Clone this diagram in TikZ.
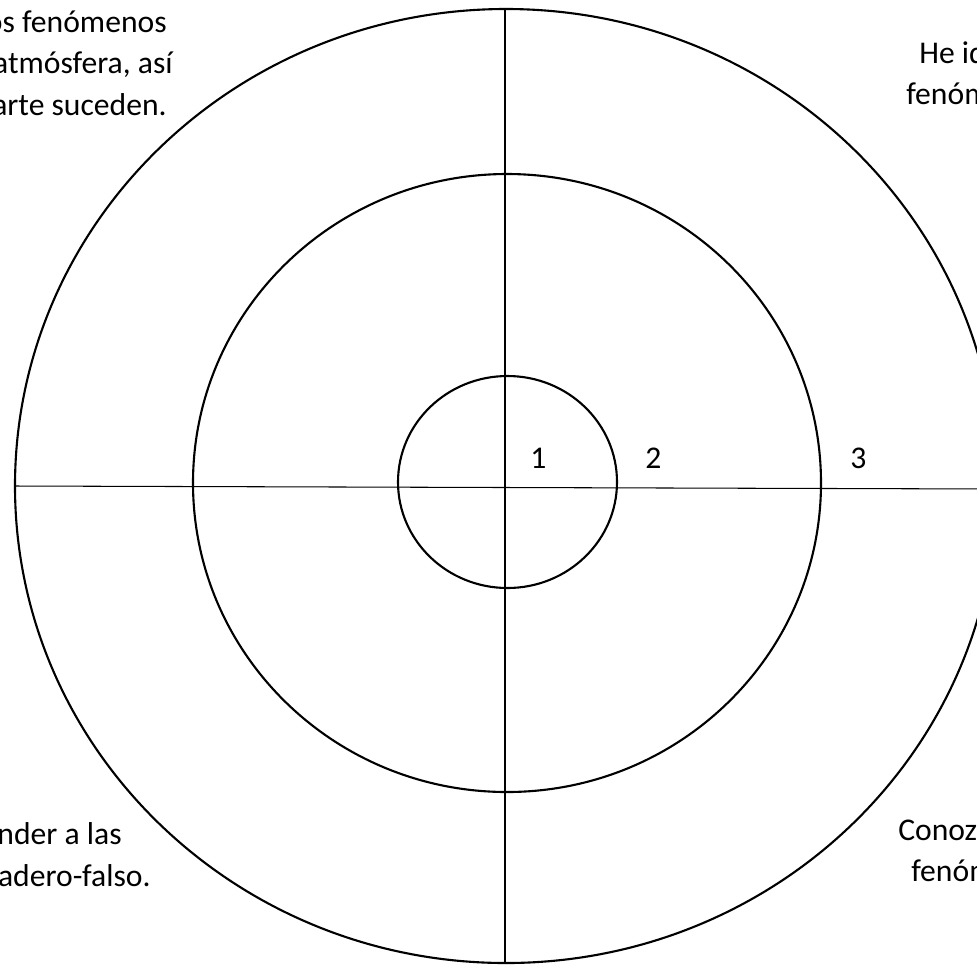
\documentclass[tikz,border=0pt]{standalone}
\usepackage{fontspec}
\setmainfont{Carlito}
\tikzset{
 diana ring/.style={line width=1.2pt},
 diana axis/.style={line width=.6pt},
 diana number/.style={font=\fontsize{18}{22}\selectfont,anchor=base west,inner sep=0pt},
 diana left/.style={font=\fontsize{18}{22}\selectfont,anchor=base east,inner sep=0pt},
 diana right/.style={font=\fontsize{18}{22}\selectfont,anchor=base west,inner sep=0pt}
}
\begin{document}
\begin{tikzpicture}[x=.02cm,y=-.02cm]
 \useasboundingbox (0,0) rectangle (977,965);
 \clip (0,0) rectangle (977,965);
 % rings
 \coordinate (c1) at (507.5,482);
 \coordinate (c2) at (507,483);
 \coordinate (c3) at (506,486);
 \draw[diana ring] (c1) ellipse [x radius=109.5,y radius=106];
 \draw[diana ring] (c2) ellipse [x radius=314,y radius=309];
 \draw[diana ring] (c3) ellipse [x radius=491,y radius=477];
 % axes
 \coordinate (ejeW) at (15,486);
 \coordinate (ejeE) at (997,489);
 \coordinate (ejeN) at (505,9);
 \coordinate (ejeS) at (505,963);
 \draw[diana axis] (ejeW)--(ejeE);
 \draw[diana axis] (ejeN)--(ejeS);
 % ring numbers
 \foreach \n/\x in {1/530,2/645,3/850}{
   \node[diana number] (n\n) at (\x,468) {\n};
 }
 % corner texts
 \foreach \i/\x/\y/\t in {1/167/32/os fenómenos,2/173/73/{atmósfera, así},
                          3/167/115/arte suceden.}{
   \node[diana left] (tl\i) at (\x,\y) {\t};
 }
 \foreach \i/\x/\y/\t in {1/122/844/nder a las,2/151/886/adero-falso.}{
   \node[diana left] (bl\i) at (\x,\y) {\t};
 }
 \foreach \i/\x/\y/\t in {1/919/63/He id,2/906/104/fenóm}{
   \node[diana right] (tr\i) at (\x,\y) {\t};
 }
 \foreach \i/\x/\y/\t in {1/898/840/Conoz,2/911/881/fenóm}{
   \node[diana right] (br\i) at (\x,\y) {\t};
 }
\end{tikzpicture}
\end{document}
